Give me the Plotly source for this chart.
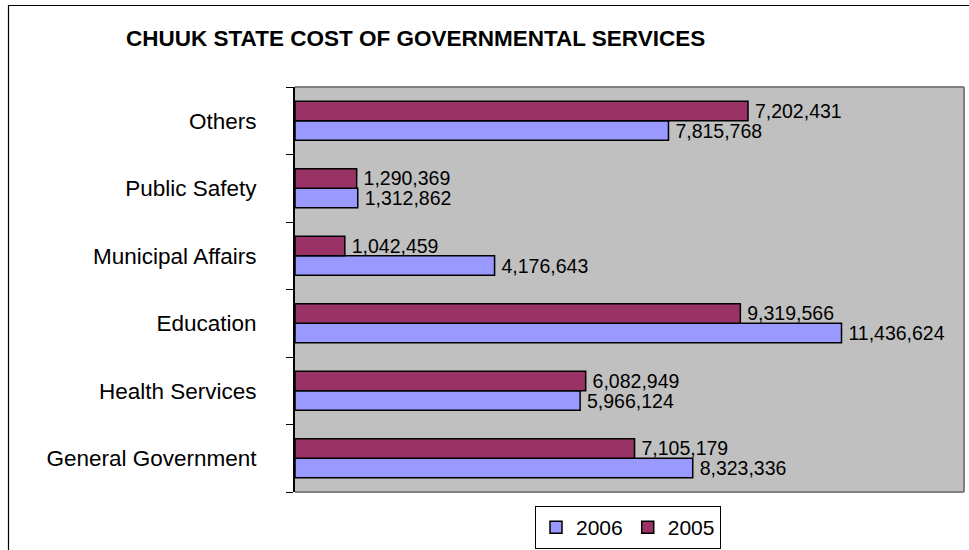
import plotly.graph_objects as go

categories = ["General Government", "Health Services", "Education",
              "Municipal Affairs", "Public Safety", "Others"]
values_2006 = [8323336, 5966124, 11436624, 4176643, 1312862, 7815768]
values_2005 = [7105179, 6082949, 9319566, 1042459, 1290369, 7202431]
# bar lengths drawn in the reference for 2005 (the "Others" bar is drawn
# longer than its printed label)
bars_2005 = [7105179, 6082949, 9319566, 1042459, 1290369, 9480000]
series_names = ["2006", "2005"]
title_text = "CHUUK STATE COST OF GOVERNMENTAL SERVICES"

FONT = "Arial, 'Liberation Sans', sans-serif"
W, H = 969, 550
L, R, T, B = 295, 5, 87, 58
pw, ph = W - L - R, H - T - B

def px_x(p):
    return (p - L) / pw

def px_y(p):
    return (H - B - p) / ph

fig = go.Figure()
series = [
    (series_names[0], values_2006, values_2006, "#9999FF"),
    (series_names[1], bars_2005, values_2005, "#993366"),
]
for name, lengths, labels, col in series:
    fig.add_trace(go.Bar(
        y=categories, x=lengths, name=name, orientation="h",
        marker=dict(color=col, line=dict(color="black", width=1.5)),
        text=["\u2009" + f"{v:,}" for v in labels], texttemplate="%{text}",
        textposition="outside",
        textfont=dict(family=FONT, size=19.5, color="black"),
        constraintext="none", cliponaxis=False, hoverinfo="skip",
    ))

shapes = [
    dict(type="rect", xref="paper", yref="paper",
         x0=px_x(8.5), x1=px_x(W + 20), y0=px_y(H + 20), y1=px_y(5.5),
         line=dict(color="black", width=1.2), fillcolor="rgba(0,0,0,0)", layer="below"),
    dict(type="line", xref="paper", yref="paper", x0=0, x1=1, y0=1, y1=1,
         line=dict(color="#808080", width=2)),
    dict(type="line", xref="paper", yref="paper", x0=1, x1=1, y0=0, y1=1,
         line=dict(color="#808080", width=2)),
    dict(type="line", xref="paper", yref="paper", x0=0, x1=1, y0=0, y1=0,
         line=dict(color="#808080", width=2)),
]

fig.update_layout(
    width=W, height=H,
    margin=dict(l=L, r=R, t=T, b=B, autoexpand=False),
    paper_bgcolor="white", plot_bgcolor="#C0C0C0",
    barmode="group", bargap=0.42, bargroupgap=0,
    font=dict(family=FONT, size=22, color="black"),
    showlegend=True,
    legend=dict(orientation="h", x=px_x(628), xanchor="center",
                y=px_y(506), yanchor="top",
                bordercolor="black", borderwidth=1, bgcolor="white",
                font=dict(family=FONT, size=21, color="black"),
                traceorder="normal", itemwidth=30),
    shapes=shapes,
    annotations=[dict(text="<b>" + title_text + "</b>", xref="paper", yref="paper",
                      x=px_x(124), y=px_y(38.5), xanchor="left", yanchor="middle",
                      showarrow=False, font=dict(family=FONT, size=22.5, color="black"))],
)
fig.update_xaxes(range=[0, 14000000], showgrid=False, zeroline=False,
                 showticklabels=False, ticks="", showline=False, fixedrange=True)
fig.update_yaxes(type="category", categoryorder="array", categoryarray=categories,
                 showgrid=False, zeroline=False, showline=True, linecolor="black",
                 linewidth=2, ticks="outside", ticklen=7, tickcolor="black",
                 tickwidth=1, tickson="boundaries", ticklabelstandoff=32,
                 tickfont=dict(family=FONT, size=22.5, color="black"),
                 automargin=False)

fig.write_html("out.html")
